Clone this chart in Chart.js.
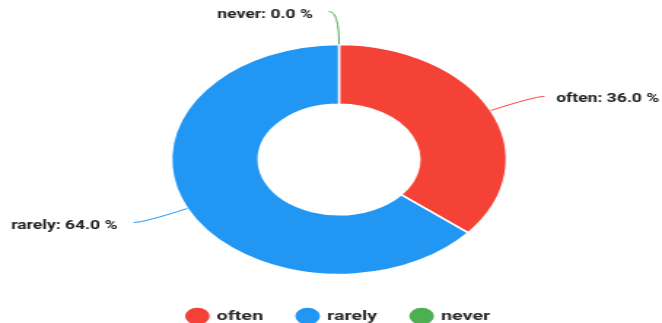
<!DOCTYPE html>
<html>
<head>
<meta charset="utf-8">
<script src="https://cdn.jsdelivr.net/npm/chart.js@4"></script>
<style>
  html, body { margin: 0; padding: 0; background: #fff; overflow: hidden; width: 662px; height: 323px; }
  /* the chart is drawn narrow and stretched sideways into an oval */
  #wrap { width: 454px; height: 333px; transform: scale(1.4581, 1); transform-origin: 0 0; }
</style>
</head>
<body>
<div id="wrap"><canvas id="usage" width="454" height="333"></canvas></div>
<script>
const categories = ['often', 'rarely', 'never'];
const counts = [36, 64, 0];
const sliceColors = ['#F44336', '#2196F3', '#4CAF50'];

const total = counts.reduce((a, b) => a + b, 0);

// leader line + "name: x.x %" outside each slice
const outLabels = {
  id: 'outLabels',
  afterDatasetsDraw(chart) {
    const ctx = chart.ctx;
    const arcs = chart.getDatasetMeta(0).data;
    ctx.save();
    ctx.font = 'bold 12px Roboto, sans-serif';
    ctx.textBaseline = 'middle';
    arcs.forEach((arc, i) => {
      const mid = (arc.startAngle + arc.endAngle) / 2;
      const cos = Math.cos(mid), sin = Math.sin(mid);
      const side = cos < 0 ? -1 : 1;
      const r = arc.outerRadius;
      const x0 = arc.x + cos * r, y0 = arc.y + sin * r;
      const cx = arc.x + cos * (r + 33), cy = arc.y + sin * (r + 33);
      const x1 = cx + side * 7, y1 = cy;
      ctx.strokeStyle = sliceColors[i];
      ctx.lineWidth = 1;
      ctx.beginPath();
      ctx.moveTo(x0, y0);
      ctx.quadraticCurveTo(cx, cy, x1, y1);
      ctx.stroke();
      const pct = (counts[i] / total * 100).toFixed(1);
      ctx.fillStyle = '#1e1e1e';
      ctx.textAlign = side < 0 ? 'right' : 'left';
      ctx.fillText(`${categories[i]}: ${pct} %`, x1 + side * (side < 0 ? 11 : 8), y1 + 3);
    });
    ctx.restore();
  }
};

new Chart(document.getElementById('usage'), {
  type: 'doughnut',
  data: {
    labels: categories,
    datasets: [{
      data: counts,
      backgroundColor: sliceColors,
      borderColor: '#fff',
      borderWidth: 1.5,
      hoverOffset: 0
    }]
  },
  options: {
    responsive: false,
    animation: false,
    cutout: '48%',
    radius: 115,
    layout: { padding: { top: 33.5, left: 11, right: 0, bottom: 0 } },
    plugins: {
      tooltip: { enabled: false },
      legend: {
        position: 'bottom',
        labels: {
          usePointStyle: true,
          pointStyle: 'circle',
          boxWidth: 13,
          boxHeight: 13,
          padding: 24,
          color: '#2a2a2a',
          font: { family: 'Roboto, sans-serif', size: 13.5, weight: 'bold' }
        }
      }
    }
  },
  plugins: [outLabels]
});
</script>
</body>
</html>
